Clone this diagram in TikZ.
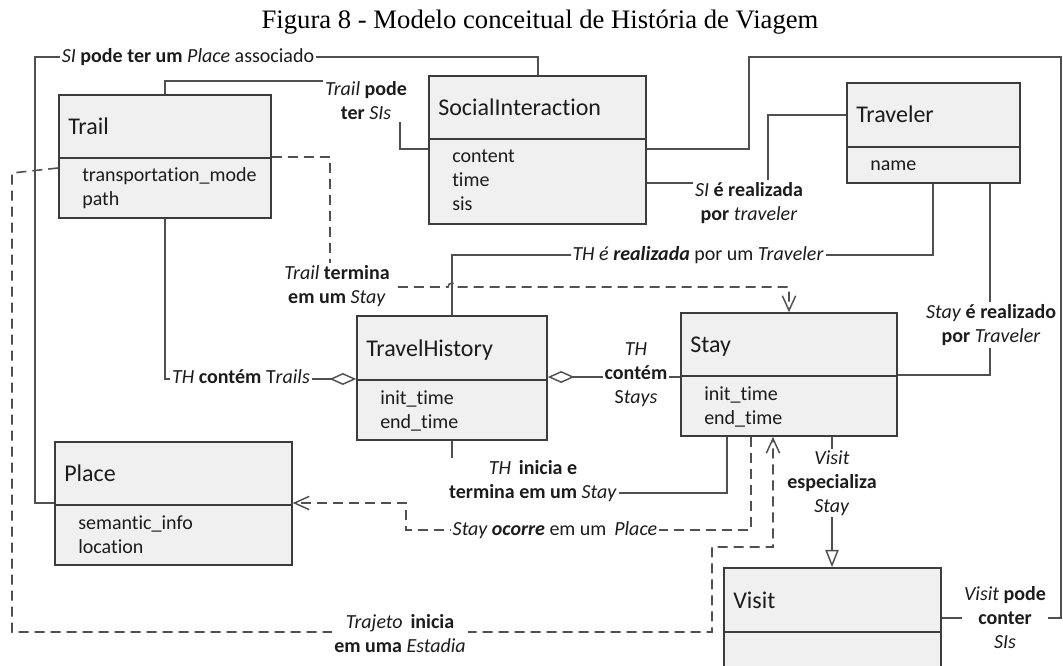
\documentclass[tikz,border=0pt]{standalone}
\usepackage{fontspec}
\setmainfont[Ligatures=NoCommon]{Carlito}
\newfontfamily\titlefont{Liberation Serif}
\usetikzlibrary{arrows.meta,fit}

\definecolor{boxfill}{HTML}{F0F0F0}
\definecolor{boxline}{HTML}{3C3C3C}
\definecolor{wirecol}{HTML}{505050}
\definecolor{ink}{HTML}{1C1C1C}

\tikzset{
  classbox/.style={draw=boxline, fill=boxfill, line width=1.2pt, inner sep=0pt},
  divline/.style={draw=boxline, line width=1.2pt},
  classtitle/.style={font=\fontsize{18}{22}\selectfont, text=ink, inner sep=0pt},
  classattr/.style={font=\fontsize{15}{18}\selectfont, text=ink, inner sep=0pt},
  wire/.style={draw=wirecol, line width=1.1pt},
  dashwire/.style={draw=wirecol, line width=1.2pt, dash pattern=on 7.5pt off 4.5pt},
  lbl/.style={font=\fontsize{15}{18}\selectfont, text=ink, fill=white, inner sep=1.5pt, align=center},
  barb/.tip={Straight Barb[length=11pt, width=10pt, line width=1.1pt]},
  agg/.tip={Diamond[open, length=20pt, width=9pt, line width=1.1pt]},
  gen/.tip={Triangle[open, length=13pt, width=10pt, line width=1.1pt]},
}

% \umlclass{name}{x1}{y1}{x2}{y2}{divider y}{title}{attribute list}
\newcommand\umlclass[8]{%
  \node[classbox, fit={(#2,#3) (#4,#5)}] (#1) {};
  \draw[divline] (#2,#6) -- (#4,#6);
  \node[classtitle, anchor=base west] (#1-title) at (#2+9, {(#3+#6)/2+8}) {#7};
  \foreach \a [count=\i] in {#8} {
    \node[classattr, anchor=base west] (#1-a\i) at (#2+23, {#6+24+(\i-1)*24}) {\a};
  }
}

\begin{document}
\begin{tikzpicture}[x=0.75pt, y=-0.75pt]
\useasboundingbox (0,0) rectangle (1063,666);
\clip (0,0) rectangle (1063,666);

% caption
\node[font=\titlefont\fontsize{20}{24}\selectfont, text=black] (caption) at (540,22)
  {Figura 8 - Modelo conceitual de História de Viagem};

% classes
\umlclass{trail}{59}{95}{271}{218}{158}{Trail}{transportation\_mode, path}
\umlclass{si}{429}{76}{646}{224}{139}{SocialInteraction}{content, time, sis}
\umlclass{traveler}{847}{83}{1020}{183}{147}{Traveler}{name}
\umlclass{th}{357}{316}{547}{440}{380}{TravelHistory}{init\_time, end\_time}
\umlclass{stay}{681}{313}{897}{436}{376}{Stay}{init\_time, end\_time}
\umlclass{place}{55}{442}{292}{565}{505}{Place}{semantic\_info, location}
\node[classbox, fit={(724,568) (941,690)}] (visit) {};
\draw[divline] (724,632) -- (941,632);
\node[classtitle, anchor=base west] (visit-title) at (733,608) {Visit};

% associations
\draw[wire] (538,0 |- si.north) -- (538,57) -- (35,57) |- (place.west |- 0,503);
\draw[wire] (165,0 |- trail.north) |- (400,81) |- (si.west |- 0,149);
\draw[wire] (si.east |- 0,183) -| (768,115) -- (traveler.west |- 0,115);
\draw[wire] (452,0 |- th.north) |- (933,255) -- (933,0 |- traveler.south);
\draw[wire, agg-] (th.west |- 0,379) -| (165,0 |- trail.south);
\draw[wire, agg-] (th.east |- 0,377) -- (stay.west |- 0,377);
\draw[wire] (990,0 |- traveler.south) |- (stay.east |- 0,375);
\draw[wire] (452,0 |- th.south) |- (727,493) -- (727,0 |- stay.south);
\draw[wire, -gen] (832,0 |- stay.south) -- (832,0 |- visit.north);
\draw[wire] (si.east |- 0,149) -| (749,57) -| (1061,618) -- (visit.east |- 0,618);

% dependencies
\draw[dashwire, -barb] (trail.east |- 0,157) -| (330,287) -- (448,287)
  arc[start angle=180, end angle=360, radius=4] -- (789,287) -- (789,0 |- stay.north);
\draw[dashwire, -barb] (751,0 |- stay.south) |- (406,530) |- (place.east |- 0,503);
\draw[dashwire, -barb] (trail.west |- 0,168) -- (12,173) -- (12,632) -| (712,547)
  -| (773,0 |- stay.south);

% connector labels
\node[lbl] (l-siplace) at (188,57) {\textit{SI} \textbf{pode ter um} \textit{Place} associado};
\node[lbl] (l-trailsi) at (366,101) {\textit{Trail} \textbf{pode}\\\textbf{ter} \textit{SIs}};
\node[lbl] (l-sitraveler) at (749,203) {\textit{SI} \textbf{é realizada}\\\textbf{por} \textit{traveler}};
\node[lbl] (l-thtraveler) at (698,255) {\textit{TH é \textbf{realizada}} por um \textit{Traveler}};
\node[lbl] (l-trailstay) at (337,286) {\textit{Trail} \textbf{termina}\\\textbf{em um} \textit{Stay}};
\node[lbl] (l-thtrails) at (241,377) {\textit{TH} \textbf{contém} T\textit{rails}};
\node[lbl] (l-thstays) at (636,375) {\textit{TH}\\\textbf{contém}\\S\textit{tays}};
\node[lbl] (l-staytraveler) at (991,325) {\textit{Stay} \textbf{é realizado}\\\textbf{por} \textit{Traveler}};
\node[lbl] (l-thstay) at (533,481) {\textit{TH}\, \textbf{inicia e}\\\textbf{termina em um} \textit{Stay}};
\node[lbl] (l-stayplace) at (555,530) {\textit{Stay \textbf{ocorre}} em um\, \textit{Place}};
\node[lbl] (l-visitstay) at (832,483) {\textit{Visit}\\\textbf{especializa}\\\textit{Stay}};
\node[lbl] (l-visitsi) at (1005,618) {\textit{Visit} \textbf{pode}\\\textbf{conter}\\\textit{SIs}};
\node[lbl] (l-trailstart) at (400,634) {\textit{Trajeto}\, \textbf{inicia}\\\textbf{em uma} \textit{Estadia}};
\end{tikzpicture}
\end{document}
